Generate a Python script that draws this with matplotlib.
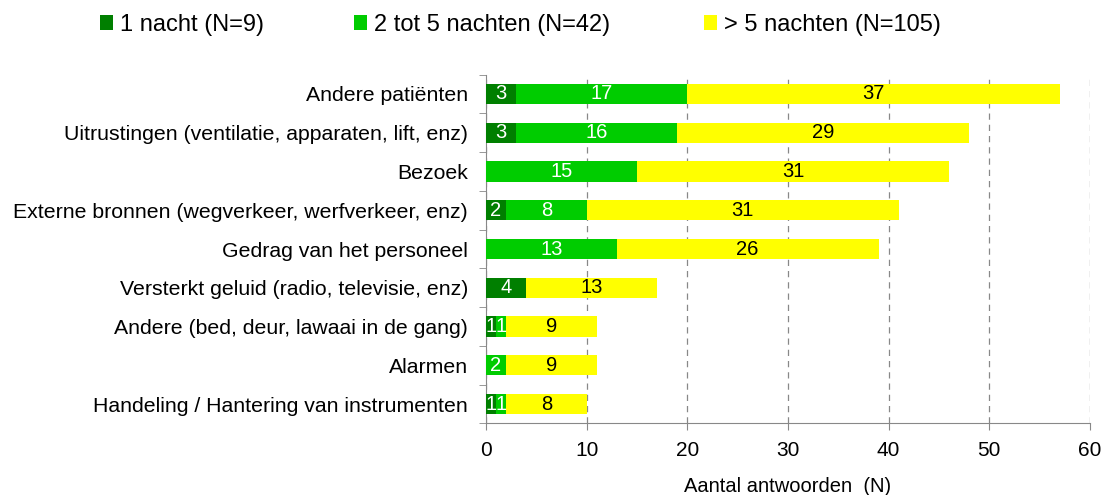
import numpy as np
import matplotlib.pyplot as plt
from matplotlib.patches import Patch

plt.rcParams['font.family'] = ['Liberation Sans', 'DejaVu Sans']

# categorieen (van boven naar onder)
categories = [
    "Andere patiënten",
    "Uitrustingen (ventilatie, apparaten, lift, enz)",
    "Bezoek",
    "Externe bronnen (wegverkeer, werfverkeer, enz)",
    "Gedrag van het personeel",
    "Versterkt geluid (radio, televisie, enz)",
    "Andere (bed, deur, lawaai in de gang)",
    "Alarmen",
    "Handeling / Hantering van instrumenten",
]
een_nacht = [3, 3, 0, 2, 0, 4, 1, 0, 1]
twee_tot_vijf = [17, 16, 15, 8, 13, 0, 1, 2, 1]
meer_dan_vijf = [37, 29, 31, 31, 26, 13, 9, 9, 8]

series_labels = ["1 nacht (N=9)", "2 tot 5 nachten (N=42)", "> 5 nachten (N=105)"]
colors = ["#007F00", "#00CC00", "#FFFF00"]
text_colors = ["white", "white", "black"]
x_ticks = [0, 10, 20, 30, 40, 50, 60]

fig = plt.figure(figsize=(11.03, 4.95), dpi=100)
ax = fig.add_axes([0.4406, 0.1446, 0.5475, 0.7047])

y = np.arange(len(categories))
left = np.zeros(len(categories))
for vals, col, tcol in zip([een_nacht, twee_tot_vijf, meer_dan_vijf], colors, text_colors):
    vals = np.array(vals, dtype=float)
    ax.barh(y, vals, left=left, height=0.52, color=col, zorder=3)
    for yi, (l, v) in enumerate(zip(left, vals)):
        if v > 0:
            ax.text(l + v / 2, yi, f"{int(v)}", ha="center", va="center",
                    color=tcol, fontsize=14.5, zorder=4)
    left += vals

ax.set_ylim(len(categories) - 0.5, -0.5)
ax.set_xlim(0, 60)
ax.set_xticks(x_ticks)
ax.set_yticks(y)
ax.set_yticklabels(categories, fontsize=15.3)
ax.set_yticks(np.arange(-0.5, len(categories), 1), minor=True)
ax.tick_params(axis="y", which="major", length=0, pad=13)
ax.tick_params(axis="y", which="minor", length=5, color="#888888")
ax.tick_params(axis="x", labelsize=15, length=5, color="#888888", pad=8)

ax.xaxis.grid(True, linestyle=(0, (5, 4)), color="#888888", linewidth=0.9, zorder=0)
for s in ["top", "right"]:
    ax.spines[s].set_visible(False)
for s in ["left", "bottom"]:
    ax.spines[s].set_color("#888888")

ax.set_xlabel("Aantal antwoorden  (N)", fontsize=14.5, labelpad=12)

# legenda: drie losse items bovenaan
legend_x = [0.071, 0.302, 0.619]
for c, l, lx in zip(colors, series_labels, legend_x):
    fig.legend(handles=[Patch(facecolor=c, label=l)], loc="upper left",
               bbox_to_anchor=(lx, 1.015), frameon=False, fontsize=17,
               handlelength=0.55, handleheight=0.55, handletextpad=0.3)

fig.savefig("out.png", dpi=100)
